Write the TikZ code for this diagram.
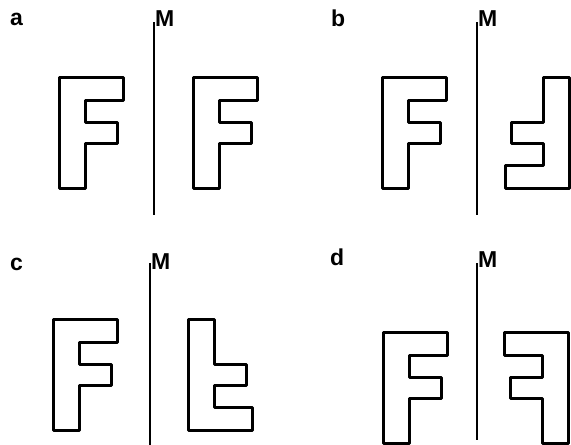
\documentclass[tikz,border=0pt]{standalone}
\usepackage{fontspec}
\setmainfont{Liberation Sans}
\usepackage{xcolor}
\definecolor{inkblack}{RGB}{0,0,0}

\tikzset{
  outline/.style={draw=inkblack,line width=3pt,line join=round},
  mirror/.style={draw=inkblack,line width=2.6pt},
  panellabel/.style={anchor=base west,inner sep=0pt,font=\fontsize{23}{25}\selectfont\bfseries},
  mirrorlabel/.style={anchor=south west,inner sep=0pt,font=\fontsize{23}{25}\selectfont\bfseries},
  fshape/.pic={
    \path[outline] (0,0) -- (64,0) -- (64,23) -- (26,23) -- (26,45) -- (58,45)
      -- (58,66) -- (26,66) -- (26,111) -- (0,111) -- cycle;
  }
}

\begin{document}
\begin{tikzpicture}[x=1pt,y=-1pt]
  \path[use as bounding box] (0,0) rectangle (571,445);

  % panel a: translation
  \node[panellabel] (la) at (10,25) {a};
  \coordinate (ma1) at (154,22);
  \coordinate (ma2) at (154,215);
  \draw[mirror] (ma1) -- (ma2);
  \node[mirrorlabel] (Ma) at (155,27) {M};
  \pic at (59,77) {fshape};
  \pic at (193,77) {fshape};

  % panel b: rotation by 180
  \node[panellabel] (lb) at (331,26) {b};
  \coordinate (mb1) at (477,22);
  \coordinate (mb2) at (477,215);
  \draw[mirror] (mb1) -- (mb2);
  \node[mirrorlabel] (Mb) at (478,27) {M};
  \pic at (382,77) {fshape};
  \pic[rotate=180] at (569,188) {fshape};

  % panel c: flipped upside down
  \node[panellabel] (lc) at (10,270) {c};
  \coordinate (mc1) at (150,263);
  \coordinate (mc2) at (150,445);
  \draw[mirror] (mc1) -- (mc2);
  \node[mirrorlabel] (Mc) at (151,270) {M};
  \pic at (53,319) {fshape};
  \pic[yscale=-1] at (188,430) {fshape};

  % panel d: mirror image
  \node[panellabel] (ld) at (330,265) {d};
  \coordinate (md1) at (477,263);
  \coordinate (md2) at (477,440);
  \draw[mirror] (md1) -- (md2);
  \node[mirrorlabel] (Md) at (478,268) {M};
  \pic at (383,332) {fshape};
  \pic[xscale=-1] at (568,332) {fshape};
\end{tikzpicture}
\end{document}
